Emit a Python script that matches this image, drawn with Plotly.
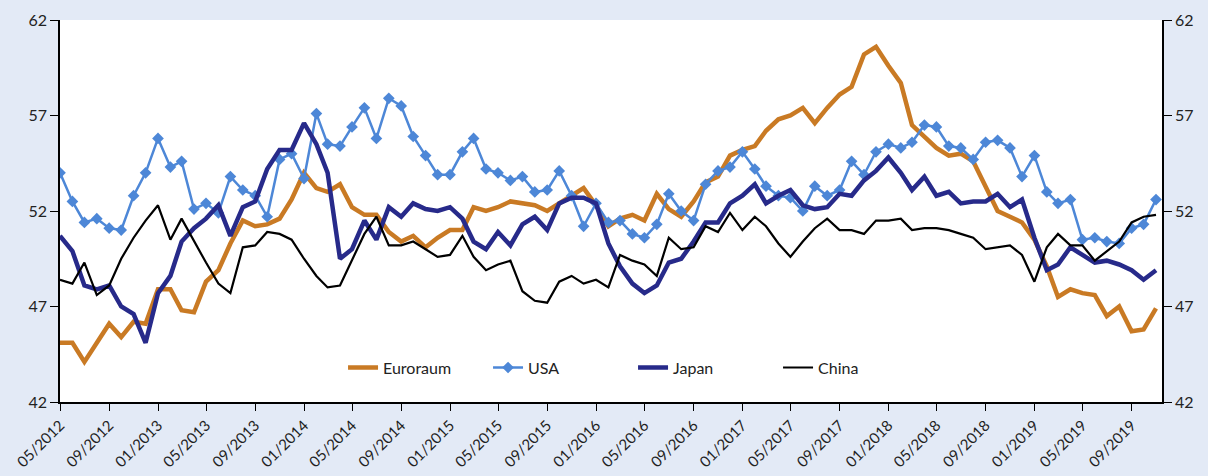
import pandas as pd
import plotly.graph_objects as go

# monthly manufacturing PMI, 05/2012 - 11/2019
months = pd.date_range("2012-05-01", periods=91, freq="MS")

euroraum = [45.1, 45.1, 44.1, 45.1, 46.1, 45.4, 46.2, 46.1, 47.9, 47.9,
            46.8, 46.7, 48.3, 48.9, 50.3, 51.5, 51.2, 51.3, 51.6, 52.6,
            54.0, 53.2, 53.0, 53.4, 52.2, 51.8, 51.8, 50.9, 50.4, 50.7,
            50.1, 50.6, 51.0, 51.0, 52.2, 52.0, 52.2, 52.5, 52.4, 52.3,
            52.0, 52.4, 52.8, 53.2, 52.3, 51.2, 51.6, 51.8, 51.5, 52.9,
            52.1, 51.7, 52.5, 53.5, 53.8, 54.9, 55.2, 55.4, 56.2, 56.8,
            57.0, 57.4, 56.6, 57.4, 58.1, 58.5, 60.2, 60.6, 59.6, 58.7,
            56.5, 55.9, 55.3, 54.9, 55.0, 54.6, 53.3, 52.0, 51.7, 51.4,
            50.5, 49.1, 47.5, 47.9, 47.7, 47.6, 46.5, 47.0, 45.7, 45.8, 46.9]

usa = [54.0, 52.5, 51.4, 51.6, 51.1, 51.0, 52.8, 54.0, 55.8, 54.3,
       54.6, 52.1, 52.4, 51.9, 53.8, 53.1, 52.8, 51.7, 54.7, 55.0,
       53.7, 57.1, 55.5, 55.4, 56.4, 57.4, 55.8, 57.9, 57.5, 55.9,
       54.9, 53.9, 53.9, 55.1, 55.8, 54.2, 54.0, 53.6, 53.8, 53.0,
       53.1, 54.1, 52.8, 51.2, 52.4, 51.4, 51.5, 50.8, 50.6, 51.3,
       52.9, 52.0, 51.5, 53.4, 54.1, 54.3, 55.1, 54.2, 53.3, 52.8,
       52.7, 52.0, 53.3, 52.8, 53.1, 54.6, 53.9, 55.1, 55.5, 55.3,
       55.6, 56.5, 56.4, 55.4, 55.3, 54.7, 55.6, 55.7, 55.3, 53.8,
       54.9, 53.0, 52.4, 52.6, 50.5, 50.6, 50.4, 50.3, 51.1, 51.3, 52.6]

japan = [50.7, 49.9, 48.1, 47.9, 48.1, 47.0, 46.6, 45.1, 47.7, 48.6,
         50.4, 51.1, 51.6, 52.3, 50.7, 52.2, 52.5, 54.2, 55.2, 55.2,
         56.6, 55.5, 54.0, 49.5, 50.0, 51.5, 50.5, 52.2, 51.7, 52.4,
         52.1, 52.0, 52.2, 51.6, 50.4, 50.0, 50.9, 50.2, 51.3, 51.7,
         51.0, 52.4, 52.7, 52.7, 52.4, 50.3, 49.1, 48.2, 47.7, 48.1,
         49.3, 49.5, 50.4, 51.4, 51.4, 52.4, 52.8, 53.4, 52.4, 52.8,
         53.1, 52.3, 52.1, 52.2, 52.9, 52.8, 53.6, 54.1, 54.8, 54.0,
         53.1, 53.8, 52.8, 53.0, 52.4, 52.5, 52.5, 52.9, 52.2, 52.6,
         50.6, 48.9, 49.2, 50.1, 49.7, 49.3, 49.4, 49.2, 48.9, 48.4, 48.9]

china = [48.4, 48.2, 49.3, 47.6, 48.1, 49.5, 50.6, 51.5, 52.3, 50.5,
         51.6, 50.4, 49.3, 48.2, 47.7, 50.1, 50.2, 50.9, 50.8, 50.5,
         49.5, 48.6, 48.0, 48.1, 49.4, 50.8, 51.7, 50.2, 50.2, 50.4,
         50.0, 49.6, 49.7, 50.7, 49.6, 48.9, 49.2, 49.4, 47.8, 47.3,
         47.2, 48.3, 48.6, 48.2, 48.4, 48.0, 49.7, 49.4, 49.2, 48.6,
         50.6, 50.0, 50.1, 51.2, 50.9, 51.9, 51.0, 51.7, 51.2, 50.3,
         49.6, 50.4, 51.1, 51.6, 51.0, 51.0, 50.8, 51.5, 51.5, 51.6,
         51.0, 51.1, 51.1, 51.0, 50.8, 50.6, 50.0, 50.1, 50.2, 49.7,
         48.3, 50.1, 50.8, 50.2, 50.2, 49.4, 49.9, 50.4, 51.4, 51.7, 51.8]

y_ticks = [42, 47, 52, 57, 62]

fig = go.Figure()
fig.add_trace(go.Scatter(x=months, y=euroraum, name="Euroraum", mode="lines",
                         line=dict(color="#C97A24", width=4.5)))
fig.add_trace(go.Scatter(x=months, y=usa, name="USA", mode="lines+markers",
                         line=dict(color="#4D87D7", width=2.5),
                         marker=dict(symbol="diamond", size=9, color="#4D87D7")))
fig.add_trace(go.Scatter(x=months, y=japan, name="Japan", mode="lines",
                         line=dict(color="#272A8A", width=4.5)))
# China on the right-hand axis (same scale) so that axis gets drawn
fig.add_trace(go.Scatter(x=months, y=china, name="China", mode="lines", yaxis="y2",
                         line=dict(color="black", width=2.2)))

axis_font = dict(family="Lato, sans-serif", size=16, color="#222")
y_common = dict(range=[42, 62], tickvals=y_ticks, ticks="outside", ticklen=8,
                tickcolor="black", showline=True, linecolor="black", linewidth=1.5,
                showgrid=False, zeroline=False, automargin=False)

fig.update_layout(
    width=1208, height=476,
    margin=dict(l=60, r=46, t=20, b=74),
    paper_bgcolor="#E3EAF6",
    plot_bgcolor="white",
    font=axis_font,
    showlegend=True,
    legend=dict(orientation="h", x=0.52, xanchor="center", y=0.09, yanchor="middle",
                bgcolor="rgba(0,0,0,0)", font=dict(size=16, color="#222"),
                entrywidth=100, entrywidthmode="pixels"),
    xaxis=dict(range=["2012-05-01", "2019-11-16"], tick0="2012-05-01", dtick="M4",
               tickformat="%m/%Y", tickangle=-45, ticks="outside", ticklen=7,
               tickcolor="black", tickfont=dict(size=15), showline=True,
               linecolor="black", linewidth=1.5, showgrid=False, zeroline=False,
               automargin=False),
    yaxis=y_common,
    yaxis2=dict(overlaying="y", side="right", **y_common),
)

# drop the default 8px body margin so the figure fills the window exactly
fig.write_html("out.html", config={"displayModeBar": False},
               post_script="document.body.style.margin='0';")
